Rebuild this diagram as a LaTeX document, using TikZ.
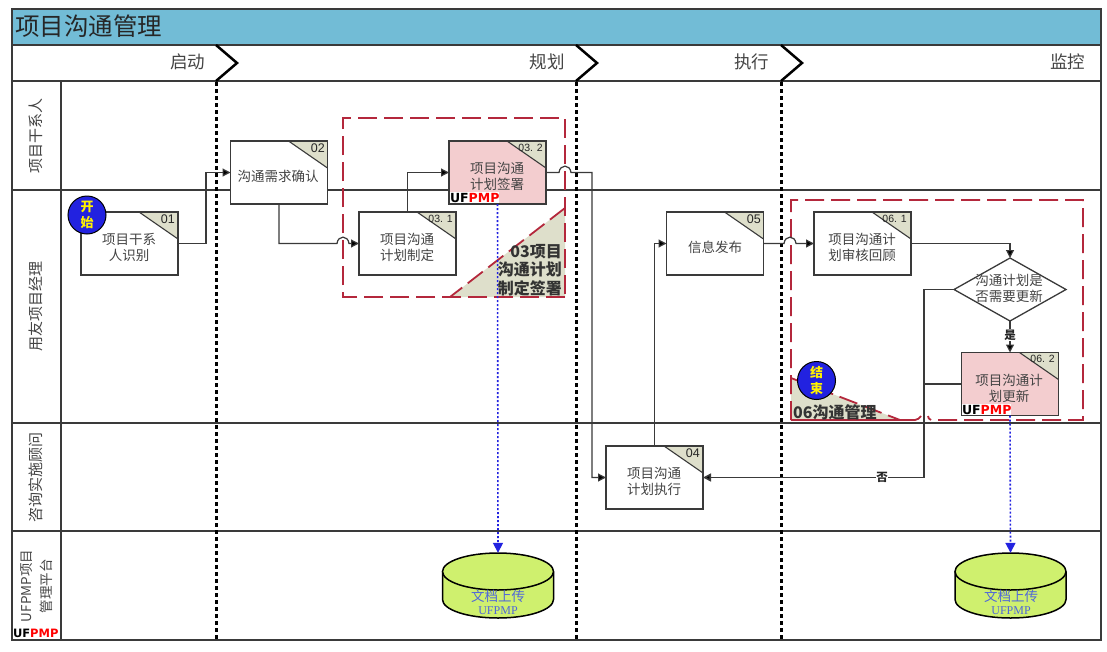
\documentclass[tikz,border=0pt]{standalone}
\usepackage{fontspec}
\setmainfont{Liberation Sans}
\newfontfamily\cjk{Noto Sans CJK SC}
\newfontfamily\logof{DejaVu Sans}
\newfontfamily\serf{Liberation Serif}
\usetikzlibrary{arrows.meta,shapes.geometric}
\definecolor{band}{HTML}{72BCD6}
\definecolor{lineg}{HTML}{3A3A3A}
\definecolor{corner}{HTML}{DEDFCB}
\definecolor{pinkf}{HTML}{F3CDCF}
\definecolor{redd}{HTML}{B4283C}
\definecolor{bluec}{HTML}{2222E0}
\definecolor{cylf}{HTML}{CFF06E}
\definecolor{bluet}{HTML}{5068D8}
\definecolor{txt}{HTML}{444444}
\tikzset{
 pbox/.style={draw=lineg,line width=1.3pt,fill=white,minimum width=97pt,minimum height=63pt,inner sep=0pt,outer sep=0pt},
 pinkbox/.style={pbox,fill=pinkf},
 boxtext/.style={font=\cjk\fontsize{13.5}{16}\selectfont,text=txt,align=center,inner sep=0pt},
 numtext/.style={font=\fontsize{12.5}{13}\selectfont,text=black!85,inner sep=0pt},
 numsmall/.style={numtext,font=\fontsize{10.5}{11}\selectfont},
 lanetext/.style={font=\cjk\fontsize{15}{21}\selectfont,text=txt,align=center,rotate=90,inner sep=0pt},
 phasetext/.style={font=\cjk\fontsize{17.5}{20}\selectfont,text=txt,inner sep=0pt},
 grouptext/.style={font=\cjk\bfseries\fontsize{16}{18.5}\selectfont,text=black!80,inner sep=0pt},
 circ/.style={circle,draw=black,line width=1pt,fill=bluec,minimum size=38pt,inner sep=0pt,font=\cjk\bfseries\fontsize{13}{15.5}\selectfont,text=yellow,align=center},
 conn/.style={draw=lineg,line width=1.2pt},
 arr/.style={conn,-{Triangle[length=8pt,width=8pt,fill=black]}},
 bluearr/.style={draw=bluec,line width=1.6pt,dash pattern=on 2pt off 2pt,-{Triangle[length=10pt,width=10pt]}},
 phasesep/.style={draw=black,line width=3pt,dash pattern=on 4pt off 3pt},
 chev/.style={draw=black,line width=2.5pt},
 region/.style={draw=redd,line width=1.8pt,dash pattern=on 19pt off 7pt},
 cylshape/.style={draw=black,line width=1.5pt,fill=cylf},
 cyltext/.style={text=bluet,align=center,inner sep=0pt},
 logotext/.style={font=\logof\bfseries\fontsize{12.5}{13}\selectfont,fill=white,inner sep=0pt,minimum height=11pt},
 flowlabel/.style={font=\cjk\bfseries\fontsize{11.5}{12}\selectfont,fill=white,inner sep=0.5pt,text=black!85},
}
\newcommand{\logo}{UF\textcolor{red}{PMP}}
\newcommand{\corn}[1]{\fill[corner] ([xshift=-39pt]#1.north east) -- (#1.north east) -- ([yshift=-27pt]#1.north east) -- cycle;
 \draw[lineg,line width=1.1pt] ([xshift=-39pt]#1.north east) -- ([yshift=-27pt]#1.north east);
 \draw[lineg,line width=1.3pt] (#1.north west) rectangle (#1.south east);}
\begin{document}
\begin{tikzpicture}[x=1pt,y=-1pt]
\useasboundingbox (0,0) rectangle (1107,651);
\fill[white] (0,0) rectangle (1107,651);
% frame and lanes
\fill[band] (12,9) rectangle (1101,45);
\draw[lineg,line width=1.4pt] (12,9) rectangle (1101,640);
\draw[lineg,line width=1.3pt] (12,45) -- (1101,45);
\draw[lineg,line width=1.3pt] (12,81) -- (1101,81);
\draw[lineg,line width=1.3pt] (12,190) -- (1101,190);
\draw[lineg,line width=1.3pt] (12,423) -- (1101,423);
\draw[lineg,line width=1.3pt] (12,531) -- (1101,531);
\draw[lineg,line width=1.1pt] (61,81) -- (61,640);
% title & phases
\node[font=\cjk\fontsize{24.5}{26}\selectfont,text=black!85,anchor=west,inner sep=0pt] (title) at (15,26) {项目沟通管理};
\node[phasetext] (ph1) at (187.5,62) {启动};
\node[phasetext] (ph2) at (547,62) {规划};
\node[phasetext] (ph3) at (751.5,62) {执行};
\node[phasetext] (ph4) at (1067.5,62) {监控};
\foreach \xx in {216,576,781}{
 \draw[phasesep] (\xx,82) -- (\xx,640);
 \draw[chev] (\xx,45) -- (\xx+21,63) -- (\xx,81);
}
% lane labels
\node[lanetext] (l1) at (36,136) {项目干系人};
\node[lanetext] (l2) at (36,306) {用友项目经理};
\node[lanetext] (l3) at (36,477) {咨询实施顾问};
\node[lanetext,font=\cjk\fontsize{13.5}{20.5}\selectfont] (l4) at (36.5,586) {UFPMP项目\\管理平台};
\node[logotext,anchor=south west,font=\logof\bfseries\fontsize{11.5}{12}\selectfont] (logo0) at (12.8,639.2) {\logo};
% group regions
\fill[corner] (450,297) -- (565,208) -- (565,297) -- cycle;
\draw[region] (565,208) -- (450,297);
\draw[region] (565,297) -- (343,297) -- (343,118) -- (565,118) -- (565,297);
\fill[corner] (791,378) -- (900,420) -- (791,420) -- cycle;
\draw[region] (791,378) -- (900,420);
\draw[region] (791,420) -- (791,200) -- (1083,200) -- (1083,420) -- (931,420) .. controls (928,420) and (929,417) .. (928,416);
\draw[redd,line width=1.8pt] (791,420) -- (900,420) -- (915,420) .. controls (918,420) and (919,418) .. (921,416);
% boxes
\node[pbox] (b01) at (129.5,243.5) {};
\node[pbox] (b02) at (279,172.5) {};
\node[pbox] (b31) at (407.5,243.5) {};
\node[pinkbox] (b32) at (497.5,172.5) {};
\node[pbox] (b04) at (654.5,477.5) {};
\node[pbox] (b05) at (715,243.5) {};
\node[pbox] (b61) at (862.5,243.5) {};
\node[pinkbox] (b62) at (1010,384) {};
\node[diamond,draw=lineg,line width=1.3pt,fill=white,minimum width=112pt,minimum height=63pt,aspect=1.78,inner sep=0pt,outer sep=0pt] (dec) at (1010,289.5) {};
\corn{b01}\corn{b02}\corn{b31}\corn{b32}\corn{b04}\corn{b05}\corn{b61}\corn{b62}
\node[numtext,anchor=east] (n01) at (175,219) {01};
\node[numtext,anchor=east] (n02) at (325,148) {02};
\node[numsmall,anchor=east] (n31) at (453,219) {03. 1};
\node[numsmall,anchor=east] (n32) at (543,148) {03. 2};
\node[numtext,anchor=east] (n04) at (700,453) {04};
\node[numtext,anchor=east] (n05) at (761,219) {05};
\node[numsmall,anchor=east] (n61) at (907,219) {06. 1};
\node[numsmall,anchor=east] (n62) at (1055,359) {06. 2};
\node[boxtext] (t01) at (129,247) {项目干系\\人识别};
\node[boxtext] (t02) at (278,176) {沟通需求确认};
\node[boxtext] (t31) at (407,247) {项目沟通\\计划制定};
\node[boxtext] (t32) at (497,176) {项目沟通\\计划签署};
\node[boxtext] (t04) at (654,481) {项目沟通\\计划执行};
\node[boxtext] (t05) at (715,247) {信息发布};
\node[boxtext] (t61) at (862,247) {项目沟通计\\划审核回顾};
\node[boxtext] (t62) at (1009,388) {项目沟通计\\划更新};
\node[boxtext] (tdec) at (1009,288) {沟通计划是\\否需要更新};
\node[logotext,anchor=south west] (logo1) at (449.8,203.3) {\logo};
\node[logotext,anchor=south west] (logo2) at (961.8,415.3) {\logo};
% circles
\node[circ] (start) at (87,215) {开\\始};
\node[circ] (end) at (816.5,380.5) {结\\束};
% jump coordinates
\coordinate (j1a) at (337,243.5);
\coordinate (j1b) at (349,243.5);
\coordinate (j2a) at (559,172.5);
\coordinate (j2b) at (571,172.5);
\coordinate (j3a) at (784,243.5);
\coordinate (j3b) at (796,243.5);
\coordinate (v1) at (206,243.5);
\coordinate (v2) at (592,172.5);
\coordinate (v3) at (924,289.5);
% connectors
\draw[arr] (b01.east) -- (v1) |- (b02.west);
\path[arr] (b02.south) |- (j1a) .. controls (338,235) and (348,235) .. (j1b) -- (b31.west);
\draw[arr] (b31.north) |- (b32.west);
\path[arr] (b32.east) -- (j2a) .. controls (560,164) and (570,164) .. (j2b) -- (v2) |- (b04.west);
\draw[arr] (b04.north) |- (b05.west);
\path[arr] (b05.east) -- (j3a) .. controls (785,235) and (795,235) .. (j3b) -- (b61.west);
\draw[arr] (b61.east) -| (dec.north);
\draw[arr] (dec.south) -- node[flowlabel,pos=0.45] (yes) {是} (b62.north);
\draw[arr,line width=1.6pt] (dec.west) -- (v3) |- node[flowlabel,pos=0.595] (no) {否} (b04.east);
\draw[conn,line width=1.6pt] (b62.west) -- (b62.west -| v3);
% cylinders
\node[minimum width=111pt,minimum height=65pt,inner sep=0pt] (c1) at (498,585.5) {};
\node[minimum width=111pt,minimum height=65pt,inner sep=0pt] (c2) at (1010.5,585.5) {};
\foreach \cc in {c1,c2}{
 \path (\cc.center) ++(-55.5,-14) coordinate (A) ++(111,0) coordinate (B);
 \path (\cc.center) ++(0,-14) coordinate (T);
 \draw[cylshape] (A) -- ++(0,28) arc[start angle=180,end angle=360,x radius=55.5pt,y radius=18.5pt] -- (B);
 \draw[cylshape] (T) ellipse[x radius=55.5pt,y radius=18.5pt];
}
\node[cyltext,font=\cjk\fontsize{13.5}{15}\selectfont] (ct1) at (498,596) {文档上传};
\node[cyltext,font=\serf\fontsize{12}{14}\selectfont] (cu1) at (498,611) {UFPMP};
\node[cyltext,font=\cjk\fontsize{13.5}{15}\selectfont] (ct2) at (1011,596) {文档上传};
\node[cyltext,font=\serf\fontsize{12}{14}\selectfont] (cu2) at (1011,611) {UFPMP};
% blue links
\draw[bluearr] (b32.south) -- (c1.north);
\draw[bluearr] (b62.south) -- (c2.north);
% group labels
\node[grouptext,align=right,anchor=east] (g3) at (562,270) {03项目\\沟通计划\\制定签署};
\node[grouptext,anchor=west] (g6) at (793,412) {06沟通管理};
\end{tikzpicture}
\end{document}
